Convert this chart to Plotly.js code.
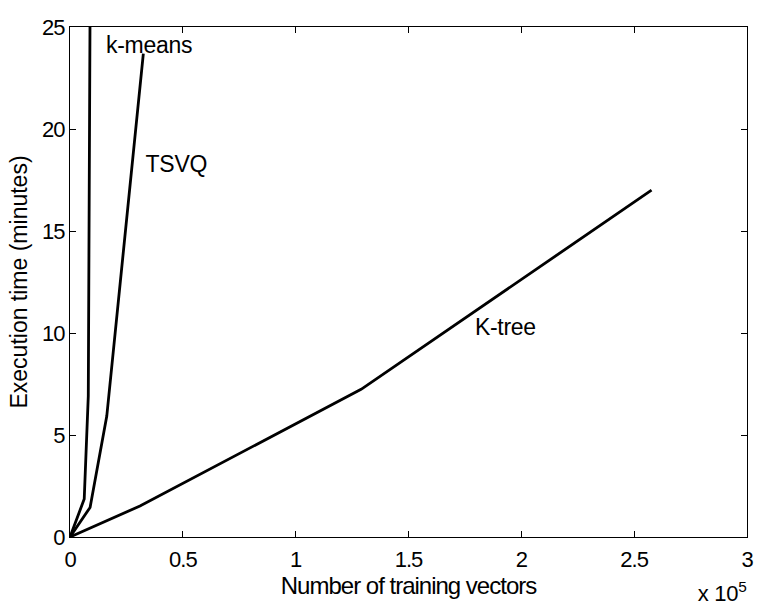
<!DOCTYPE html>
<html>
<head>
<meta charset="utf-8">
<script src="https://cdn.plot.ly/plotly-3.0.1.min.js"></script>
<style>html,body{margin:0;padding:0;background:#fff;}#chart{width:764px;height:605px;}
#chart text{letter-spacing:-1px;}
#chart text.ytitle{letter-spacing:0px;}
#chart text.annotation-text{letter-spacing:-0.3px;}</style>
</head>
<body>
<div id="chart"></div>
<script>
// Data (x = number of training vectors, y = execution time in minutes)
const kmeansX = [0, 6300, 8100, 8900];
const kmeansY = [0, 1.86, 6.9, 26];
const tsvqX = [0, 8900, 16300, 32500];
const tsvqY = [0, 1.45, 5.93, 23.7];
const ktreeX = [0, 14600, 31000, 129000, 257700];
const ktreeY = [0, 0.73, 1.52, 7.24, 17.0];

const xTickVals = [0, 50000, 100000, 150000, 200000, 250000, 300000];
const xTickText = ['0', '0.5', '1', '1.5', '2', '2.5', '3'];
const yTickVals = [0, 5, 10, 15, 20, 25];

const seriesLabels = ['k-means', 'TSVQ', 'K-tree'];
const labelX = [35000, 47000, 193200];
const labelY = [24.1, 18.3, 10.3];

const font = 'Liberation Sans, Arial, sans-serif';
const lineStyle = {color: '#000', width: 2.8};

const traces = [
  {x: kmeansX, y: kmeansY, name: seriesLabels[0]},
  {x: tsvqX, y: tsvqY, name: seriesLabels[1]},
  {x: ktreeX, y: ktreeY, name: seriesLabels[2]}
].map(t => Object.assign(t, {type: 'scatter', mode: 'lines', line: lineStyle, hoverinfo: 'skip'}));

const annotations = seriesLabels.map((s, i) => ({
  x: labelX[i], y: labelY[i], xref: 'x', yref: 'y', text: s, showarrow: false,
  font: {family: font, size: 23, color: '#000'}
}));
annotations.push({
  xref: 'paper', yref: 'paper', x: 0.963, y: -0.108, xanchor: 'center', yanchor: 'middle',
  text: 'x 10<sup>5</sup>', showarrow: false, font: {family: font, size: 22, color: '#000'}
});

const axisCommon = {
  showgrid: false, zeroline: false, showline: true, linecolor: '#000', linewidth: 1,
  mirror: 'allticks', ticks: 'inside', ticklen: 6, tickcolor: '#000', tickwidth: 1,
  tickfont: {family: font, size: 22, color: '#000'}
};

const layout = {
  width: 764, height: 605,
  margin: {l: 70, r: 17, t: 27, b: 68},
  paper_bgcolor: '#fff', plot_bgcolor: '#fff',
  showlegend: false,
  xaxis: Object.assign({}, axisCommon, {
    range: [0, 300000], tickmode: 'array', tickvals: xTickVals, ticktext: xTickText,
    ticklabelstandoff: 3,
    title: {text: 'Number of training vectors', font: {family: font, size: 24, color: '#000'}, standoff: 0}
  }),
  yaxis: Object.assign({}, axisCommon, {
    range: [0, 25], tickmode: 'array', tickvals: yTickVals,
    title: {text: 'Execution time (minutes)', font: {family: font, size: 23, color: '#000'}, standoff: 6}
  }),
  annotations: annotations
};

Plotly.newPlot('chart', traces, layout, {displayModeBar: false, staticPlot: true});
</script>
</body>
</html>
